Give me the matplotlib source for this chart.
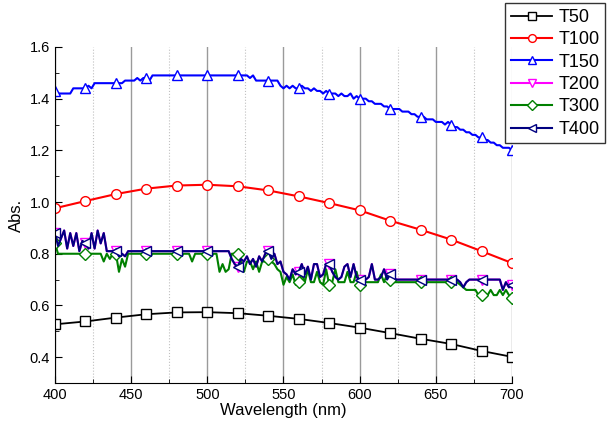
import numpy as np
import matplotlib
matplotlib.use("Agg")
import matplotlib.pyplot as plt

plt.rcParams['font.family'] = ['Liberation Sans', 'DejaVu Sans']

# coarse grid (every 20 nm) for the smooth spectra
wl_coarse = np.arange(400, 701, 20)
t50 = [0.527, 0.538, 0.553, 0.566, 0.573, 0.574, 0.570, 0.560,
       0.548, 0.532, 0.514, 0.493, 0.471, 0.451, 0.424, 0.401]
t100 = [0.976, 1.004, 1.031, 1.052, 1.064, 1.067, 1.061, 1.045,
        1.022, 0.996, 0.968, 0.928, 0.893, 0.855, 0.810, 0.764]

# fine grid (every 2 nm) for the noisy spectra, one row = 20 nm
wl_fine = np.arange(400, 701, 2)
t150 = [1.43, 1.42, 1.42, 1.42, 1.42, 1.42, 1.44, 1.44, 1.44, 1.44,
        1.44, 1.45, 1.44, 1.46, 1.46, 1.46, 1.46, 1.46, 1.46, 1.46,
        1.46, 1.46, 1.46, 1.47, 1.47, 1.47, 1.47, 1.48, 1.47, 1.48,
        1.48, 1.47, 1.49, 1.49, 1.49, 1.49, 1.49, 1.49, 1.49, 1.49,
        1.49, 1.49, 1.49, 1.49, 1.49, 1.49, 1.49, 1.49, 1.49, 1.49,
        1.49, 1.49, 1.49, 1.49, 1.49, 1.49, 1.49, 1.49, 1.49, 1.49,
        1.49, 1.49, 1.49, 1.49, 1.48, 1.49, 1.47, 1.47, 1.47, 1.47,
        1.47, 1.47, 1.47, 1.47, 1.45, 1.44, 1.45, 1.44, 1.45, 1.44,
        1.44, 1.45, 1.44, 1.44, 1.43, 1.44, 1.43, 1.43, 1.42, 1.43,
        1.42, 1.42, 1.42, 1.41, 1.42, 1.41, 1.41, 1.42, 1.40, 1.41,
        1.40, 1.40, 1.40, 1.39, 1.39, 1.38, 1.38, 1.38, 1.37, 1.37,
        1.36, 1.36, 1.36, 1.36, 1.35, 1.35, 1.35, 1.34, 1.34, 1.33,
        1.33, 1.33, 1.32, 1.32, 1.32, 1.31, 1.31, 1.31, 1.30, 1.31,
        1.30, 1.29, 1.29, 1.28, 1.28, 1.27, 1.27, 1.26, 1.26, 1.25,
        1.25, 1.24, 1.24, 1.23, 1.23, 1.22, 1.22, 1.21, 1.21, 1.21,
        1.20]
t200 = [0.88, 0.83, 0.86, 0.89, 0.82, 0.88, 0.83, 0.88, 0.81, 0.85,
        0.84, 0.82, 0.88, 0.82, 0.89, 0.84, 0.88, 0.81, 0.81, 0.81,
        0.81, 0.79, 0.80, 0.79, 0.81, 0.81, 0.81, 0.81, 0.81, 0.81,
        0.81, 0.81, 0.81, 0.81, 0.81, 0.81, 0.81, 0.81, 0.81, 0.81,
        0.81, 0.81, 0.81, 0.81, 0.81, 0.81, 0.81, 0.81, 0.81, 0.81,
        0.81, 0.81, 0.81, 0.81, 0.81, 0.81, 0.81, 0.81, 0.78, 0.76,
        0.75, 0.78, 0.77, 0.79, 0.76, 0.78, 0.75, 0.79, 0.77, 0.80,
        0.81, 0.78, 0.80, 0.76, 0.77, 0.73, 0.72, 0.70, 0.74, 0.72,
        0.73, 0.76, 0.72, 0.75, 0.70, 0.76, 0.76, 0.71, 0.72, 0.76,
        0.76, 0.73, 0.71, 0.70, 0.71, 0.75, 0.76, 0.71, 0.76, 0.71,
        0.70, 0.70, 0.70, 0.71, 0.76, 0.70, 0.70, 0.71, 0.74, 0.70,
        0.72, 0.71, 0.70, 0.70, 0.70, 0.70, 0.70, 0.70, 0.70, 0.70,
        0.70, 0.70, 0.70, 0.70, 0.70, 0.70, 0.70, 0.70, 0.70, 0.70,
        0.70, 0.70, 0.70, 0.69, 0.67, 0.69, 0.70, 0.70, 0.70, 0.70,
        0.70, 0.70, 0.70, 0.70, 0.70, 0.70, 0.70, 0.66, 0.69, 0.67,
        0.68]
t300 = [0.84, 0.80, 0.80, 0.80, 0.80, 0.80, 0.80, 0.80, 0.80, 0.80,
        0.80, 0.80, 0.80, 0.80, 0.80, 0.80, 0.77, 0.80, 0.78, 0.80,
        0.80, 0.73, 0.78, 0.75, 0.80, 0.80, 0.80, 0.80, 0.80, 0.80,
        0.80, 0.80, 0.80, 0.80, 0.80, 0.80, 0.80, 0.80, 0.80, 0.80,
        0.80, 0.80, 0.80, 0.80, 0.80, 0.77, 0.80, 0.80, 0.80, 0.80,
        0.80, 0.80, 0.80, 0.80, 0.73, 0.76, 0.73, 0.74, 0.80, 0.80,
        0.80, 0.77, 0.73, 0.77, 0.77, 0.74, 0.77, 0.73, 0.77, 0.77,
        0.78, 0.77, 0.76, 0.74, 0.73, 0.68, 0.71, 0.69, 0.72, 0.68,
        0.69, 0.72, 0.69, 0.74, 0.69, 0.69, 0.73, 0.69, 0.68, 0.74,
        0.68, 0.69, 0.74, 0.69, 0.69, 0.69, 0.73, 0.69, 0.69, 0.73,
        0.68, 0.69, 0.69, 0.69, 0.69, 0.69, 0.69, 0.72, 0.69, 0.72,
        0.70, 0.69, 0.69, 0.69, 0.69, 0.69, 0.69, 0.69, 0.69, 0.69,
        0.69, 0.69, 0.69, 0.69, 0.69, 0.69, 0.69, 0.69, 0.69, 0.69,
        0.69, 0.69, 0.69, 0.68, 0.67, 0.66, 0.66, 0.66, 0.66, 0.64,
        0.64, 0.64, 0.64, 0.66, 0.64, 0.64, 0.66, 0.64, 0.66, 0.64,
        0.63]
t400 = [0.88, 0.83, 0.86, 0.89, 0.82, 0.88, 0.83, 0.88, 0.81, 0.85,
        0.84, 0.82, 0.88, 0.82, 0.89, 0.84, 0.88, 0.81, 0.81, 0.81,
        0.81, 0.79, 0.80, 0.79, 0.81, 0.81, 0.81, 0.81, 0.81, 0.81,
        0.81, 0.81, 0.81, 0.81, 0.81, 0.81, 0.81, 0.81, 0.81, 0.81,
        0.81, 0.81, 0.81, 0.81, 0.81, 0.81, 0.81, 0.81, 0.81, 0.81,
        0.81, 0.81, 0.81, 0.81, 0.81, 0.81, 0.81, 0.81, 0.78, 0.76,
        0.75, 0.78, 0.77, 0.79, 0.76, 0.78, 0.75, 0.79, 0.77, 0.80,
        0.81, 0.78, 0.80, 0.76, 0.77, 0.73, 0.72, 0.70, 0.74, 0.72,
        0.73, 0.76, 0.72, 0.75, 0.70, 0.76, 0.76, 0.71, 0.72, 0.76,
        0.76, 0.73, 0.71, 0.70, 0.71, 0.75, 0.76, 0.71, 0.76, 0.71,
        0.70, 0.70, 0.70, 0.71, 0.76, 0.70, 0.70, 0.71, 0.74, 0.70,
        0.72, 0.71, 0.70, 0.70, 0.70, 0.70, 0.70, 0.70, 0.70, 0.70,
        0.70, 0.70, 0.70, 0.70, 0.70, 0.70, 0.70, 0.70, 0.70, 0.70,
        0.70, 0.70, 0.70, 0.69, 0.67, 0.69, 0.70, 0.70, 0.70, 0.70,
        0.70, 0.70, 0.70, 0.70, 0.70, 0.70, 0.70, 0.66, 0.69, 0.67,
        0.68]

fig = plt.figure(figsize=(6.07, 4.26), dpi=100)
ax = fig.add_axes([0.0906, 0.101, 0.7529, 0.7887])

mk = dict(markerfacecolor='white', markersize=7.5, markeredgewidth=1.0)
ax.plot(wl_coarse, t50, color='black', lw=1.3, marker='s', label='T50',
        markerfacecolor='white', markersize=6.5, markeredgewidth=1.0)
ax.plot(wl_coarse, t100, color='red', lw=1.5, marker='o', label='T100',
        markerfacecolor='white', markersize=7, markeredgewidth=1.0)
ax.plot(wl_fine, t150, color='blue', lw=1.5, marker='^', markevery=10, label='T150', **mk)
ax.plot(wl_fine, t200, color='magenta', lw=1.5, marker='v', markevery=10, label='T200', **mk)
ax.plot(wl_fine, t300, color='green', lw=1.5, marker='D', markevery=10, label='T300',
        markerfacecolor='white', markersize=6, markeredgewidth=1.0)
ax.plot(wl_fine, t400, color='navy', lw=1.5, marker='<', markevery=10, label='T400', **mk)

ax.set_xlim(400, 700)
ax.set_ylim(0.3, 1.6)
ax.set_xticks(np.arange(400, 701, 50))
ax.set_xticks(np.arange(425, 700, 50), minor=True)
ax.set_yticks(np.arange(0.4, 1.61, 0.2))
ax.set_yticks(np.arange(0.3, 1.61, 0.1), minor=True)
ax.set_yticklabels([f"{v:.1f}" for v in np.arange(0.4, 1.61, 0.2)])

ax.grid(axis='x', which='major', color='#9a9a9a', lw=1.0)
ax.grid(axis='x', which='minor', color='#c0c0c0', lw=0.8, ls=':')
ax.set_axisbelow(True)

ax.spines['top'].set_visible(False)
ax.spines['right'].set_visible(False)
ax.tick_params(which='both', direction='in', labelsize=10.5)
ax.tick_params(which='major', length=5)
ax.tick_params(which='minor', length=3)
ax.set_xlabel('Wavelength (nm)', fontsize=12, labelpad=1)
ax.set_ylabel('Abs.', fontsize=12, labelpad=4)

leg = fig.legend(loc='upper right', bbox_to_anchor=(0.997, 0.992), fontsize=13,
                 frameon=True, fancybox=False, edgecolor='black', handlelength=2.3,
                 borderpad=0.3, labelspacing=0.3, handletextpad=0.35, borderaxespad=0,
                 markerscale=0.8)
leg.get_frame().set_linewidth(1.0)

fig.savefig('out.png', dpi=100)
